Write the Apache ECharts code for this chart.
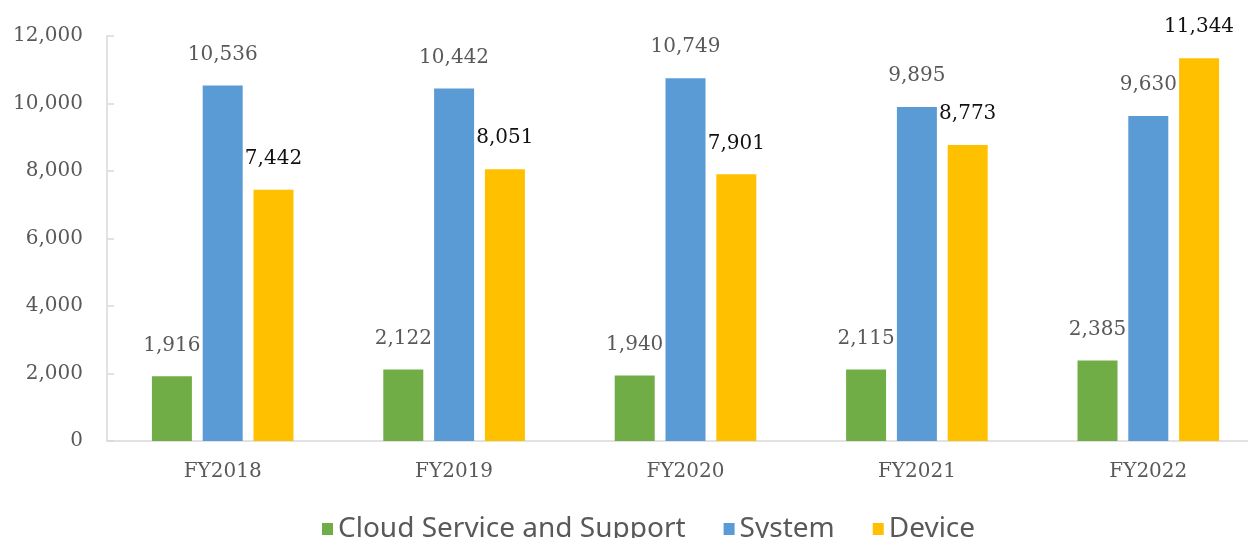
<!DOCTYPE html>
<html>
<head>
<meta charset="utf-8">
<script src="https://cdn.jsdelivr.net/npm/echarts@6/dist/echarts.min.js"></script>
<style>
html,body{margin:0;padding:0;background:#fff;overflow:hidden;}
#chart{width:1264px;height:538px;}
</style>
</head>
<body>
<div id="chart"></div>
<script>
const categories = ['FY2018', 'FY2019', 'FY2020', 'FY2021', 'FY2022']
const cloudValues = [1916, 2122, 1940, 2115, 2385]
const systemValues = [10536, 10442, 10749, 9895, 9630]
const deviceValues = [7442, 8051, 7901, 8773, 11344]
const yTicks = [0, 2000, 4000, 6000, 8000, 10000, 12000]

const serif = 'DejaVu Serif'
const fmt = v => Number(v).toLocaleString('en-US')

function barSeries(name, data, color, labelColor){
  return {
    name: name,
    type: 'bar',
    data: data,
    barWidth: 40,
    barGap: '27%',
    itemStyle: { color: color },
    label: {
      show: true,
      position: 'top',
      distance: 21,
      fontFamily: serif,
      fontSize: 20,
      color: labelColor,
      formatter: p => fmt(p.value)
    }
  }
}

// the chart is a bit wider than the window, the right end gets cut off like in the original
const chart = echarts.init(document.getElementById('chart'))
const option = {
  animation: false,
  grid: { left: 107, right: 0, top: 36, bottom: 97 },
  legend: {
    top: 510,
    left: 317,
    itemWidth: 11,
    itemHeight: 12,
    itemGap: 38,
    icon: 'rect',
    textStyle: { fontFamily: 'Noto Sans', fontSize: 28, color: '#595959' },
    data: ['Cloud Service and Support', 'System', 'Device']
  },
  xAxis: {
    type: 'category',
    data: categories,
    axisLine: { lineStyle: { color: '#d9d9d9', width: 1.5 } },
    axisTick: { show: false },
    axisLabel: { fontFamily: serif, fontSize: 20, color: '#595959', margin: 21 }
  },
  yAxis: {
    type: 'value',
    min: yTicks[0],
    max: yTicks[yTicks.length - 1],
    interval: 2000,
    axisLine: { show: true, lineStyle: { color: '#d9d9d9', width: 1.5 } },
    axisTick: { show: true, inside: true, length: 7, lineStyle: { color: '#d9d9d9', width: 1.5 } },
    splitLine: { show: false },
    axisLabel: { fontFamily: serif, fontSize: 20, color: '#595959', margin: 24, formatter: v => fmt(v) }
  },
  series: [
    barSeries('Cloud Service and Support', cloudValues, '#70AD47', '#595959'),
    barSeries('System', systemValues, '#5B9BD5', '#595959'),
    barSeries('Device', deviceValues, '#FFC000', '#111111')
  ]
}
chart.setOption(option)
</script>
</body>
</html>
